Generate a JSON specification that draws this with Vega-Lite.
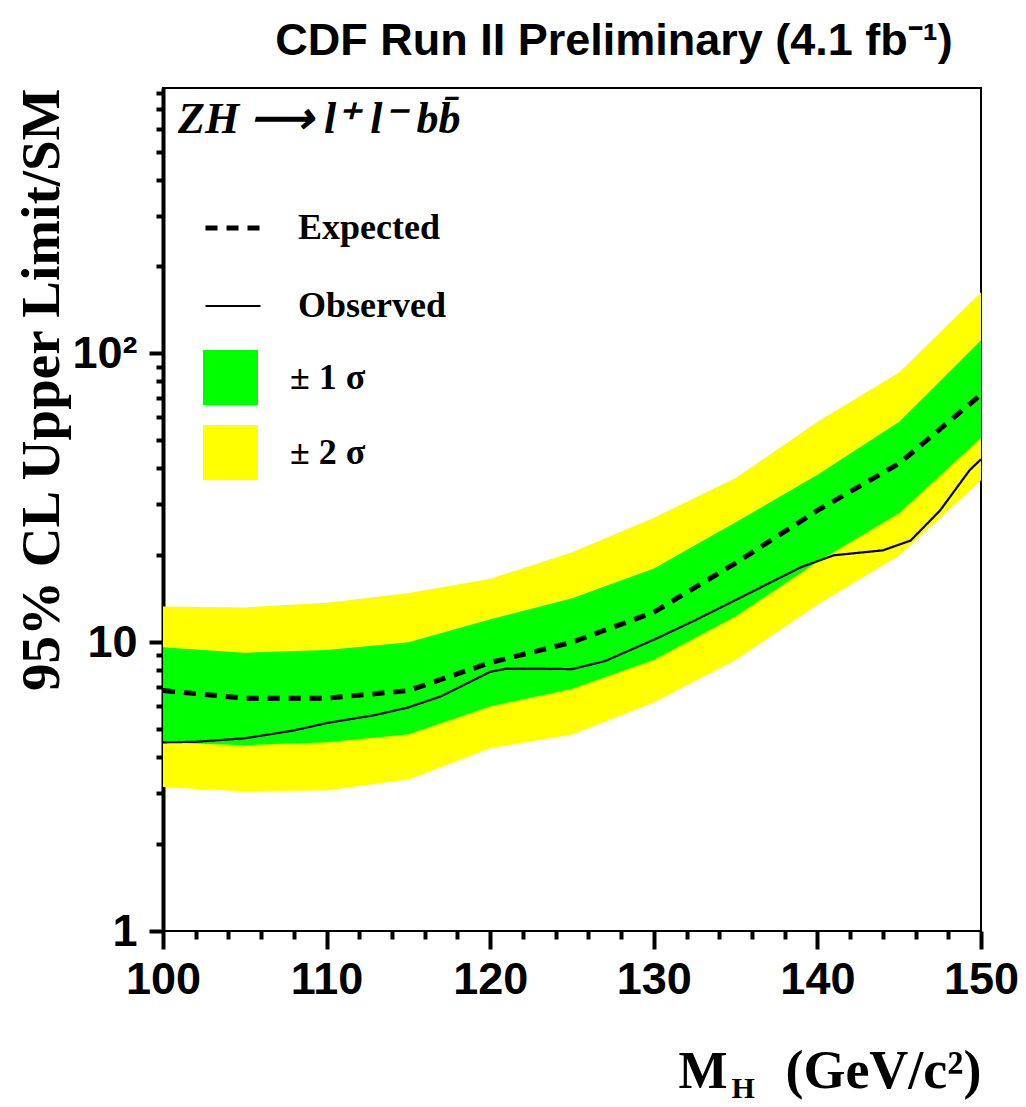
{
  "$schema": "https://vega.github.io/schema/vega-lite/v6.json",
  "width": 818,
  "height": 843,
  "autosize": {"type": "none"},
  "padding": {"left": 163, "top": 88, "right": 45, "bottom": 176},
  "background": "white",
  "title": {
    "text": "CDF Run II Preliminary (4.1 fb⁻¹)",
    "font": "Liberation Sans",
    "fontSize": 45,
    "fontWeight": "bold",
    "color": "black",
    "anchor": "middle",
    "frame": "group",
    "dx": 42,
    "offset": 24
  },
  "config": {
    "view": {"stroke": "black", "strokeWidth": 2},
    "axis": {"grid": false, "tickColor": "black", "domainColor": "black", "labelColor": "black", "titleColor": "black", "tickCap": "butt"}
  },
  "datasets": {
    "bands": [
      {"mass": 100, "yl": 3.15, "gl": 4.5, "gu": 9.6, "yu": 13.3},
      {"mass": 105, "yl": 3.05, "gl": 4.4, "gu": 9.2, "yu": 13.2},
      {"mass": 110, "yl": 3.07, "gl": 4.5, "gu": 9.4, "yu": 13.7},
      {"mass": 115, "yl": 3.35, "gl": 4.8, "gu": 10.0, "yu": 14.8},
      {"mass": 120, "yl": 4.3, "gl": 6.0, "gu": 12.0, "yu": 16.6},
      {"mass": 125, "yl": 4.8, "gl": 6.9, "gu": 14.2, "yu": 20.5},
      {"mass": 130, "yl": 6.2, "gl": 8.7, "gu": 18.0, "yu": 27.0},
      {"mass": 135, "yl": 8.7, "gl": 12.3, "gu": 26.0, "yu": 37.0},
      {"mass": 140, "yl": 13.5, "gl": 19.0, "gu": 38.0, "yu": 58.0},
      {"mass": 145, "yl": 20.0, "gl": 28.0, "gu": 58.0, "yu": 86.0},
      {"mass": 150, "yl": 36.4, "gl": 51.0, "gu": 111.0, "yu": 163.0}
    ],
    "lines": [
      {"mass": 100, "series": "Expected", "limit": 6.8},
      {"mass": 105, "series": "Expected", "limit": 6.4},
      {"mass": 110, "series": "Expected", "limit": 6.4},
      {"mass": 115, "series": "Expected", "limit": 6.8},
      {"mass": 120, "series": "Expected", "limit": 8.5},
      {"mass": 125, "series": "Expected", "limit": 10.0},
      {"mass": 130, "series": "Expected", "limit": 12.7},
      {"mass": 135, "series": "Expected", "limit": 18.8},
      {"mass": 140, "series": "Expected", "limit": 28.6},
      {"mass": 145, "series": "Expected", "limit": 41.6},
      {"mass": 150, "series": "Expected", "limit": 72.0},
      {"mass": 100, "series": "Observed", "limit": 4.5},
      {"mass": 102, "series": "Observed", "limit": 4.52},
      {"mass": 105, "series": "Observed", "limit": 4.65},
      {"mass": 108, "series": "Observed", "limit": 4.95},
      {"mass": 110, "series": "Observed", "limit": 5.25},
      {"mass": 113, "series": "Observed", "limit": 5.6},
      {"mass": 115, "series": "Observed", "limit": 5.95},
      {"mass": 117, "series": "Observed", "limit": 6.5},
      {"mass": 119, "series": "Observed", "limit": 7.4},
      {"mass": 120, "series": "Observed", "limit": 7.9},
      {"mass": 121, "series": "Observed", "limit": 8.1},
      {"mass": 123, "series": "Observed", "limit": 8.1},
      {"mass": 125, "series": "Observed", "limit": 8.07},
      {"mass": 127, "series": "Observed", "limit": 8.6},
      {"mass": 130, "series": "Observed", "limit": 10.2},
      {"mass": 132.5, "series": "Observed", "limit": 11.9},
      {"mass": 135, "series": "Observed", "limit": 14.0},
      {"mass": 137.5, "series": "Observed", "limit": 16.5},
      {"mass": 139, "series": "Observed", "limit": 18.2},
      {"mass": 141, "series": "Observed", "limit": 20.0},
      {"mass": 144, "series": "Observed", "limit": 20.8},
      {"mass": 145.7, "series": "Observed", "limit": 22.5},
      {"mass": 147.5, "series": "Observed", "limit": 28.6},
      {"mass": 149.3, "series": "Observed", "limit": 39.4},
      {"mass": 150, "series": "Observed", "limit": 43.0}
    ]
  },
  "layer": [
    {
      "data": {"name": "bands"},
      "mark": {"type": "area", "clip": true},
      "encoding": {
        "x": {
          "field": "mass", "type": "quantitative",
          "scale": {"domain": [100, 150], "nice": false, "zero": false},
          "axis": {
            "orient": "bottom",
            "values": [100, 110, 120, 130, 140, 150],
            "format": "d",
            "domain": false,
            "tickSize": 18, "tickWidth": 4,
            "labelFont": "Liberation Sans", "labelFontWeight": "bold", "labelFontSize": 45,
            "labelPadding": 8, "labelFlush": false, "labelOverlap": false,
            "title": "(GeV/c²)",
            "titleFont": "Liberation Serif", "titleFontWeight": "bold", "titleFontSize": 54,
            "titleAlign": "right", "titleBaseline": "alphabetic", "titleX": 818, "titleY": 156
          }
        },
        "y": {
          "field": "yl", "type": "quantitative",
          "scale": {"type": "log", "domain": [1, 830], "nice": false},
          "axis": {
            "orient": "left",
            "values": [1, 10, 100],
            "labelExpr": "datum.value == 100 ? '10²' : datum.value == 10 ? '10' : '1'",
            "domain": true, "domainWidth": 4,
            "tickSize": 14, "tickWidth": 4,
            "labelFont": "Liberation Sans", "labelFontWeight": "bold", "labelFontSize": 45,
            "labelPadding": 12, "labelFlush": false, "labelOverlap": false,
            "title": "95% CL Upper Limit/SM",
            "titleFont": "Liberation Serif", "titleFontWeight": "bold", "titleFontSize": 55,
            "titleAngle": -90, "titleAlign": "right", "titleBaseline": "alphabetic",
            "titleX": -105, "titleY": 0
          }
        },
        "y2": {"field": "yu"},
        "fill": {
          "datum": "± 2 σ", "type": "nominal",
          "scale": {"domain": ["± 1 σ", "± 2 σ"], "range": ["#00ff00", "#ffff00"]},
          "legend": {
            "orient": "none", "legendX": 40, "legendY": 262,
            "title": null,
            "symbolType": "square", "symbolSize": 3025, "symbolStrokeWidth": 0, "symbolOpacity": 1,
            "rowPadding": 20, "labelOffset": 32,
            "labelFont": "Liberation Serif", "labelFontWeight": "bold", "labelFontSize": 36, "labelColor": "black"
          }
        }
      }
    },
    {
      "data": {"name": "bands"},
      "mark": {"type": "area", "clip": true},
      "encoding": {
        "x": {
          "field": "mass", "type": "quantitative",
          "axis": {
            "orient": "bottom",
            "values": [102, 104, 106, 108, 112, 114, 116, 118, 122, 124, 126, 128, 132, 134, 136, 138, 142, 144, 146, 148],
            "labels": false, "domain": false,
            "tickSize": 8, "tickWidth": 4,
            "title": "M",
            "titleFont": "Liberation Serif", "titleFontWeight": "bold", "titleFontSize": 52,
            "titleAlign": "left", "titleBaseline": "alphabetic", "titleX": 515, "titleY": 156
          }
        },
        "y": {
          "field": "gl", "type": "quantitative",
          "axis": {
            "orient": "left",
            "values": [2, 3, 4, 5, 6, 7, 8, 9, 20, 30, 40, 50, 60, 70, 80, 90, 200, 300, 400, 500, 600, 700, 800],
            "labels": false, "domain": false,
            "tickSize": 7, "tickWidth": 4,
            "title": null
          }
        },
        "y2": {"field": "gu"},
        "fill": {
          "datum": "± 1 σ", "type": "nominal",
          "scale": {"domain": ["± 1 σ", "± 2 σ"], "range": ["#00ff00", "#ffff00"]}
        }
      }
    },
    {
      "data": {"name": "lines"},
      "mark": {"type": "line", "color": "black", "strokeCap": "butt", "clip": true},
      "encoding": {
        "x": {
          "field": "mass", "type": "quantitative",
          "axis": {
            "orient": "bottom",
            "labels": false, "ticks": false, "domain": false,
            "title": "H",
            "titleFont": "Liberation Serif", "titleFontWeight": "bold", "titleFontSize": 30,
            "titleAlign": "left", "titleBaseline": "alphabetic", "titleX": 568, "titleY": 166
          }
        },
        "y": {"field": "limit", "type": "quantitative", "axis": null},
        "strokeDash": {
          "field": "series", "type": "ordinal",
          "scale": {"domain": ["Expected", "Observed"], "range": [[12, 9], [1, 0]]},
          "legend": {
            "orient": "none", "legendX": 15, "legendY": 10,
            "title": "ZH ⟶ l⁺ l⁻ bb̄",
            "titleFont": "Liberation Serif", "titleFontWeight": "bold", "titleFontStyle": "italic",
            "titleFontSize": 44, "titleColor": "black", "titleLimit": 0, "titlePadding": 56,
            "symbolType": "stroke", "symbolSize": 3025, "symbolStrokeColor": "black", "symbolOffset": 25,
            "rowPadding": 31, "labelOffset": 35,
            "labelFont": "Liberation Serif", "labelFontWeight": "bold", "labelFontSize": 36, "labelColor": "black"
          }
        },
        "strokeWidth": {
          "field": "series", "type": "ordinal",
          "scale": {"domain": ["Expected", "Observed"], "range": [5, 2.2]}
        }
      }
    }
  ],
  "resolve": {"axis": {"x": "independent", "y": "independent"}}
}
